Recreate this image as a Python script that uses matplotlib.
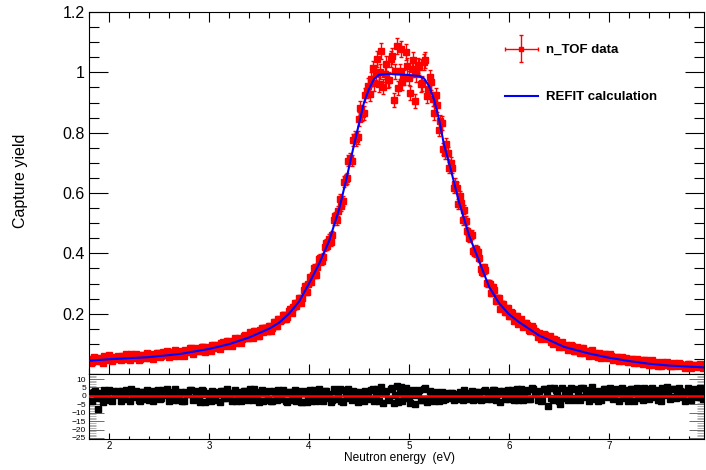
import numpy as np
import matplotlib
matplotlib.use("Agg")
import matplotlib.pyplot as plt
from matplotlib.ticker import MultipleLocator, FixedLocator, NullFormatter
from matplotlib.container import ErrorbarContainer
from matplotlib.legend_handler import HandlerErrorbar

plt.rcParams['font.family'] = ['Liberation Sans', 'DejaVu Sans']

# bin centres of the n_TOF data (eV): two interleaved sets, 0.015 eV apart
energy_a = np.round(np.arange(1.800, 7.951, 0.03), 3)
energy_b = np.round(np.arange(1.815, 7.936, 0.03), 3)

yield_a = [
    .050, .041, .054, .048, .044, .059, .053, .047, .058, .051,
    .054, .060, .049, .057, .065, .053, .060, .050, .062, .058,
    .054, .065, .062, .069, .059, .067, .075, .065, .061, .072,
    .070, .066, .078, .076, .085, .075, .083, .075, .089, .086,
    .085, .096, .086, .096, .102, .098, .111, .101, .111, .103,
    .118, .116, .129, .119, .130, .143, .136, .146, .139, .153,
    .160, .153, .170, .182, .178, .194, .189, .216, .222, .224,
    .252, .252, .291, .298, .305, .351, .355, .384, .388, .434,
    .449, .460, .523, .540, .558, .638, .649, .714, .775, .778,
    .845, .862, .924, .956, .978, .963, 1.044, 1.002, .953, 1.029,
    .975, 1.055, 1.004, .948, 1.078, .982, 1.021, .931, 1.040, .994,
    1.018, .963, 1.040, .945, .967, .865, .891, .838, .747, .761,
    .684, .684, .631, .563, .566, .545, .474, .463, .408, .415,
    .385, .338, .344, .302, .270, .277, .252, .217, .231, .212,
    .192, .202, .186, .167, .181, .163, .163, .143, .152, .138,
    .136, .119, .129, .116, .105, .117, .104, .103, .089, .097,
    .088, .093, .077, .084, .086, .071, .075, .076, .066, .059,
    .068, .061, .066, .052, .059, .052, .058, .052, .043, .053,
    .045, .051, .044, .036, .045, .047, .036, .039, .031, .040,
    .034, .040, .030, .034, .026, .036, .031, .033, .025, .030,
    .033, .026, .029, .022, .029, .025,
]
yield_b = [
    .037, .057, .044, .053, .038, .052, .062, .043, .052, .061,
    .046, .060, .066, .045, .056, .065, .048, .064, .052, .069,
    .062, .049, .069, .055, .074, .063, .055, .073, .079, .060,
    .076, .061, .073, .086, .067, .086, .075, .091, .072, .088,
    .077, .096, .093, .082, .107, .093, .106, .094, .120, .113,
    .103, .127, .120, .138, .119, .135, .125, .153, .153, .142,
    .144, .173, .159, .176, .196, .181, .210, .203, .237, .237,
    .237, .277, .271, .320, .329, .329, .382, .375, .421, .424,
    .438, .509, .510, .580, .573, .646, .707, .707, .784, .784,
    .881, .865, .937, .927, 1.013, .998, .960, 1.072, .993, .974,
    1.045, .909, 1.088, 1.003, .967, 1.066, .981, 1.010, .904, 1.023,
    .960, 1.034, .922, .983, .913, .925, .810, .832, .731, .732,
    .700, .617, .618, .590, .509, .508, .451, .462, .401, .405,
    .348, .354, .301, .300, .288, .243, .252, .233, .205, .218,
    .204, .177, .192, .177, .156, .169, .145, .159, .142, .124,
    .117, .132, .121, .125, .101, .112, .091, .106, .092, .081,
    .096, .075, .088, .071, .085, .074, .061, .078, .069, .056,
    .054, .067, .057, .065, .048, .058, .042, .058, .048, .039,
    .051, .036, .050, .040, .033, .045, .031, .045, .038, .027,
    .026, .037, .040, .025, .034, .025, .036, .029, .021, .034,
    .021, .031, .025, .032, .020,
]
abs_err = 0.005
rel_err = 0.02
half_bin = 0.0075

# residuals (data - fit) / error, lower panel
resid_a = [
    1.5, -2.8, 3.2, -8.0, -1.0, 3.5, 1.2, -2.5, 2.8, 0.4,
    1.0, 3.1, -2.0, 2.2, 3.8, -0.5, 1.9, -3.0, 2.6, 0.8,
    -2.2, 2.9, 1.1, 3.4, -1.5, 1.8, 4.2, 0.3, -2.7, 2.1,
    1.2, -2.9, 2.5, 0.9, 3.6, -1.1, 1.8, -3.4, 2.9, 1.0,
    -0.6, 3.2, -2.4, 1.4, 2.7, -1.3, 3.9, -0.9, 1.6, -3.1,
    2.4, -0.4, 3.0, -2.6, 1.1, 4.0, 0.2, 2.3, -3.3, 1.5,
    2.8, -3.2, 1.6, 3.4, -1.8, 2.0, -3.6, 2.6, 1.0, -3.0,
    2.9, -3.5, 3.1, 0.6, -3.1, 3.4, -0.2, 1.7, -2.9, 2.8,
    1.0, -2.7, 3.0, 0.4, -2.9, 3.3, -1.4, 1.6, 3.2, -1.9,
    1.2, -1.7, 3.1, -0.9, 3.4, -2.8, 4.1, 1.5, -4.3, 3.2,
    -2.1, 4.4, 0.7, -3.6, 5.2, -1.3, 2.5, -4.4, 3.7, 0.3,
    3.3, -2.6, 4.6, -1.6, 2.0, -3.0, 1.4, 0.7, -2.2, 1.8,
    -1.3, 1.9, 0.7, -1.9, 1.9, 3.3, -1.0, 1.6, -2.6, 2.2,
    1.6, -2.1, 3.7, 0.8, -2.0, 3.4, 1.4, -3.5, 2.9, 0.8,
    -1.8, 3.5, 1.2, -2.5, 4.1, 0.6, 3.0, -1.7, 3.8, 1.1,
    3.0, -1.6, 3.8, -6.0, -1.2, 4.6, 1.2, -4.8, -1.4, 3.6,
    0.9, 3.9, -1.3, 2.4, 4.4, -0.8, 2.0, 3.6, 0.4, -1.6,
    3.0, 1.3, 4.2, -0.9, 2.6, 0.4, 3.9, 1.7, -1.3, 3.5,
    0.9, 4.0, 1.8, -1.4, 3.1, 4.8, 0.5, 2.2, -0.9, 3.6,
    1.4, 4.5, 0.5, 2.7, -0.9, 4.1, 1.8, 3.2, -0.5, 2.3,
    3.6, 0.9, 2.7, -0.5, 3.2, 1.4,
]
resid_b = [
    -3.0, 2.6, -1.4, 1.9, -3.8, 0.7, 3.4, -2.9, 1.1, 2.9,
    -3.2, 1.9, 3.7, -3.3, 0.8, 2.9, -2.7, 2.5, -1.6, 3.6,
    1.8, -3.1, 2.7, -1.8, 3.7, 0.5, -2.9, 2.6, 3.9, -2.4,
    2.2, -3.0, 0.9, 3.5, -2.6, 2.7, -0.9, 3.3, -3.4, 1.6,
    -2.8, 2.5, 1.2, -3.5, 3.2, -1.0, 2.0, -3.2, 3.6, 1.3,
    -3.1, 2.8, 0.6, 3.8, -2.7, 1.2, -3.4, 3.3, 2.4, -2.3,
    -3.3, 3.2, -2.2, 1.0, 3.6, -2.9, 2.5, -2.6, 3.4, 0.7,
    -3.6, 2.4, -3.9, 3.7, 1.3, -3.2, 4.2, -2.1, 3.2, -1.2,
    -3.4, 3.8, -1.6, 4.1, -3.5, 1.9, 4.3, -2.2, 2.6, -3.5,
    2.6, -3.1, 1.7, -2.0, 4.3, 1.0, -3.3, 5.0, 1.9, -2.5,
    3.8, -4.2, 5.6, 1.9, -2.9, 4.8, -0.6, 3.2, -4.8, 2.2,
    -2.2, 4.1, -3.5, 2.9, -0.6, 2.3, -2.8, 2.2, -1.9, 1.2,
    1.7, -2.3, 1.4, 2.6, -2.4, 1.1, -1.8, 3.0, -1.6, 2.5,
    -2.2, 2.9, -1.8, 2.2, 3.5, -2.3, 3.0, 1.8, -2.1, 3.6,
    2.6, -2.5, 3.9, 1.7, -2.4, 3.6, -1.9, 4.5, 1.2, -2.3,
    -2.8, 3.9, 1.8, 4.5, -2.3, 3.4, -2.8, 4.7, 0.8, -2.5,
    4.8, -2.5, 3.8, -2.2, 4.7, 1.3, -3.2, 5.5, 2.3, -2.9,
    -2.5, 4.0, 1.0, 4.6, -2.1, 3.6, -3.3, 4.4, 1.7, -2.8,
    4.1, -2.9, 4.5, 1.2, -2.5, 4.3, -1.9, 4.8, 3.0, -2.5,
    -2.8, 4.2, 5.0, -2.1, 3.9, -1.4, 4.6, 2.1, -2.9, 4.4,
    -2.2, 4.3, 1.5, 4.7, -1.6,
]

# REFIT calculation
fit_energy = [1.80, 2.00, 2.40, 2.70, 3.00, 3.20, 3.40, 3.60, 3.70, 3.80,
              3.90, 4.00, 4.10, 4.20, 4.30, 4.38, 4.44, 4.50, 4.55, 4.60,
              4.65, 4.70, 4.80, 4.90, 5.00, 5.10, 5.15, 5.20, 5.25, 5.30,
              5.35, 5.42, 5.50, 5.60, 5.70, 5.80, 5.90, 6.00, 6.10, 6.30,
              6.55, 6.80, 7.00, 7.20, 7.40, 7.60, 7.95]
fit_yield = [.044, .049, .056, .066, .083, .099, .121, .150, .170, .200,
             .240, .300, .365, .440, .545, .655, .745, .830, .900, .945,
             .978, .992, .995, .993, .991, .988, .980, .955, .910, .845,
             .760, .675, .570, .460, .375, .290, .235, .198, .172, .128,
             .090, .068, .054, .043, .034, .028, .022]

energy = np.concatenate([energy_a, energy_b])
yld = np.array(yield_a + yield_b)
resid = np.array(resid_a + resid_b)

fig = plt.figure(figsize=(7.06, 4.70), dpi=100)
ax = fig.add_axes([89 / 706, 1 - 374 / 470, 615 / 706, 362 / 470])
ax2 = fig.add_axes([89 / 706, 1 - 439 / 470, 615 / 706, 65 / 470])

data = ax.errorbar(energy, yld, yerr=abs_err + rel_err * yld, xerr=half_bin,
                   fmt='s', color='red', ms=4.0, elinewidth=1.0, capsize=1.2,
                   label='n_TOF data', zorder=2)
fit_line, = ax.plot(fit_energy, fit_yield, color='blue', lw=1.5,
                    label='REFIT calculation', zorder=3)

ax.set_xlim(1.8, 7.95)
ax.set_ylim(0, 1.2)
ax.yaxis.set_major_locator(FixedLocator([0.2, 0.4, 0.6, 0.8, 1.0, 1.2]))
ax.yaxis.set_minor_locator(MultipleLocator(0.05))
ax.set_yticklabels(['0.2', '0.4', '0.6', '0.8', '1', '1.2'])
ax.xaxis.set_major_locator(MultipleLocator(1))
ax.xaxis.set_minor_locator(MultipleLocator(0.2))
ax.xaxis.set_major_formatter(NullFormatter())
ax.tick_params(axis='y', which='major', direction='in', length=14, width=0.8,
               left=True, right=True, labelsize=11.5, pad=3)
ax.tick_params(axis='y', which='minor', direction='in', length=7, width=0.8,
               left=True, right=True)
ax.tick_params(axis='x', which='major', direction='in', length=7, width=0.8,
               top=True, bottom=True)
ax.tick_params(axis='x', which='minor', direction='in', length=4, width=0.8,
               top=True, bottom=True)
for s in ax.spines.values():
    s.set_linewidth(0.8)

ax.legend(handles=[data, fit_line], loc='upper left',
          bbox_to_anchor=(505 / 706, 1 - 44 / 470), bbox_transform=fig.transFigure,
          frameon=False, borderpad=0, borderaxespad=0, labelspacing=2.65,
          handlelength=2.5, handletextpad=0.6, markerscale=0.65,
          handler_map={ErrorbarContainer: HandlerErrorbar(xerr_size=1.25, yerr_size=1.05)},
          prop={'weight': 'bold', 'size': 9.5})

ax2.errorbar(energy, resid, yerr=1.0, fmt='s', color='black', ms=4.0,
             elinewidth=1.6, capsize=0, zorder=2)
ax2.axhline(0, color='red', lw=1.8, zorder=3)
ax2.set_xlim(1.8, 7.95)
ax2.set_ylim(-25.6, 13)
ax2.yaxis.set_major_locator(FixedLocator([10, 5, 0, -5, -10, -15, -20, -25]))
ax2.yaxis.set_minor_locator(MultipleLocator(1))
ax2.xaxis.set_major_locator(MultipleLocator(1))
ax2.xaxis.set_minor_locator(MultipleLocator(0.2))
ax2.tick_params(axis='y', which='major', direction='in', length=11, width=0.6,
                left=True, right=True, labelsize=6, pad=2, color='#555555')
ax2.tick_params(axis='y', which='minor', direction='in', length=5, width=0.5,
                left=True, right=True, color='#999999')
ax2.tick_params(axis='x', which='major', direction='in', length=4, width=0.8,
                top=False, bottom=True, labelsize=7, pad=1.5)
ax2.tick_params(axis='x', which='minor', direction='in', length=2.5, width=0.8,
                top=False, bottom=True)
for s in ax2.spines.values():
    s.set_linewidth(0.8)

fig.text(21 / 706, 1 - 181 / 470, 'Capture yield', rotation=90,
         fontsize=11.5, ha='center', va='center')
fig.text(399 / 706, 1 - 458 / 470, 'Neutron energy  (eV)',
         fontsize=8.6, ha='center', va='center')

fig.savefig('out.png', dpi=100)
